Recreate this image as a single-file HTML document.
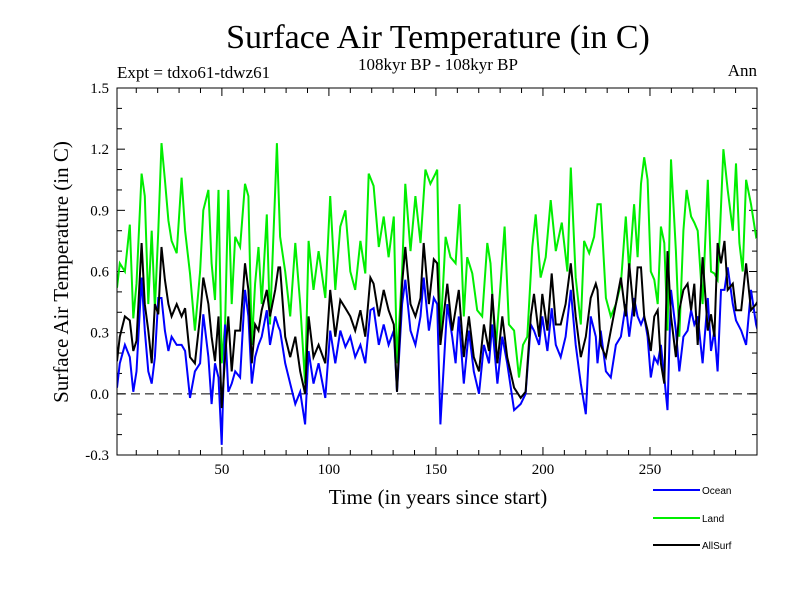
<!DOCTYPE html>
<html><head><meta charset="utf-8"><style>
body{margin:0;background:#fff}
svg text{font-family:"Liberation Serif",serif}
</style></head><body>
<svg id="chart" width="800" height="600" xmlns="http://www.w3.org/2000/svg">
<rect width="800" height="600" fill="#fff"/>
<text x="438" y="48" font-size="34" text-anchor="middle">Surface Air Temperature (in C)</text>
<text x="117" y="78" font-size="17">Expt = tdxo61-tdwz61</text>
<text x="438" y="70" font-size="17" text-anchor="middle">108kyr BP - 108kyr BP</text>
<text x="757" y="76" font-size="17" text-anchor="end">Ann</text>
<text x="438" y="504" font-size="21" text-anchor="middle">Time (in years since start)</text>
<text transform="translate(68,272) rotate(-90)" font-size="21" text-anchor="middle">Surface Air Temperature (in C)</text>
<defs><clipPath id="pc"><rect x="117" y="88" width="640" height="367"/></clipPath></defs>
<g id="axes"></g>
<g id="series" clip-path="url(#pc)"></g>
<rect x="117" y="88" width="640" height="367" fill="none" stroke="#000" stroke-width="1"/>
<g id="legend"></g>
</svg>
<script>
const yTicks=[-0.3,0,0.3,0.6,0.9,1.2,1.5];
const yTickLabels=["-0.3","0.0","0.3","0.6","0.9","1.2","1.5"];
const xTicks=[50,100,150,200,250];
const xTickLabels=["50","100","150","200","250"];
const seriesNames=["Ocean","Land","AllSurf"];
const landYears=[1,2.3,4.7,7,8.6,10.1,12.5,14,15.6,17.2,18.7,20.3,21.8,23.4,25,26.5,28.9,31.2,32.8,35.1,37.4,39.8,41.3,43.7,45.2,46.8,48.4,49.9,51.5,53,54.6,56.2,58.5,60.8,62.4,64,65.5,67.1,68.6,71,72.5,74.9,75.7,77.2,79.6,81.9,84.3,86.6,88.9,90.5,92.8,95.2,98.3,100.6,103,105.3,107.7,110,112.3,114.7,117,118.6,120.9,123.3,125.6,127.9,130.3,131.8,134.2,135.7,138.1,140.4,142.8,145.1,147.4,149.8,150.6,152.1,154.5,156.8,159.2,161,163,164.6,167,169.3,171.6,174,175.5,177.9,180.2,182.1,184.1,186.5,188.8,190.7,192.7,195,196.6,198.9,201.3,203.6,206,208.8,211.4,213,215.3,217.7,219.2,221.6,223.9,225.5,227,229.4,231.7,234.1,236.4,238.7,240.3,242.6,244.2,245.8,247.3,248.9,250.4,252,253.6,255.1,256.7,258.2,259.8,262.1,263.7,265.6,267.1,269.2,270.7,272.3,274.6,277,278.5,280.1,281.6,282.7,284.3,286.3,288.7,290.2,291.8,293.3,294.9,297.2,299.6,301.1];
const landValues=[0.52,0.64,0.6,0.83,0.37,0.54,1.08,0.97,0.44,0.8,0.42,0.8,1.23,1.05,0.85,0.75,0.69,1.06,0.8,0.59,0.31,0.6,0.9,1.0,0.64,0.46,1.0,0.15,0.34,1.0,0.44,0.77,0.72,1.03,0.97,0.24,0.54,0.72,0.44,0.88,0.34,1.0,1.23,0.77,0.6,0.38,0.74,0.44,0.05,0.75,0.51,0.7,0.47,0.97,0.51,0.82,0.9,0.6,0.51,0.75,0.59,1.08,1.02,0.72,0.87,0.67,0.87,0.15,0.6,1.03,0.7,0.97,0.74,1.1,1.03,1.08,1.1,0.28,0.77,0.67,0.64,0.93,0.38,0.67,0.59,0.41,0.38,0.74,0.64,0.21,0.54,0.82,0.34,0.31,0.08,0.24,0.28,0.72,0.88,0.57,0.67,0.95,0.7,0.84,0.6,1.11,0.57,0.34,0.75,0.69,0.77,0.93,0.93,0.47,0.38,0.44,0.54,0.87,0.6,0.93,0.67,1.03,1.16,1.05,0.6,0.56,0.44,0.82,0.74,0.31,1.15,0.7,0.28,0.8,1.0,0.87,0.84,0.8,0.44,1.05,0.6,0.59,0.56,0.8,1.2,1.0,0.8,1.13,0.74,0.6,1.05,0.93,0.77,0.79,0.74];
const allYears=[1,2.3,4.7,7,8.6,10.1,12.5,14,15.6,17.2,18.7,20.3,21.8,23.4,25,26.5,28.9,31.2,32.8,35.1,37.4,39.8,41.3,43.7,45.2,46.8,48.4,49.9,51.5,53,54.6,56.2,58.5,60.8,62.4,64,65.5,67.1,68.6,71,72.5,74.9,76.4,77.2,79.6,81.9,84.3,86.6,88.9,90.5,92.8,95.2,98.3,100.6,103,105.3,107.7,110,112.3,114.7,117,119.4,120.9,123.3,125.6,127.9,130.3,131.8,134.2,135.7,138.1,140.4,142.8,144.3,146.7,149,150.6,152.1,155.3,157.6,160.7,163,165.4,167.7,170.1,172.4,174.8,176.3,178.7,181,183.3,186.5,189.6,191.9,194.3,195.8,198.2,199.7,202.1,204.1,206,208.3,210.6,213,215.3,217.7,220,222.3,224.7,225.5,227,229.4,231.7,234.1,236.4,238.7,240.3,242.6,244.2,245.8,247.3,248.9,250.4,252,253.6,255.1,256.7,258.2,259.8,262.1,263.7,265.6,267.6,269.2,270.7,272.3,274.6,277,278.5,280.1,281.6,283.2,284.8,286.3,288.7,290.2,292.6,294.9,297.2,299.6,301.1];
const allValues=[0.16,0.28,0.38,0.36,0.21,0.26,0.74,0.44,0.31,0.15,0.44,0.39,0.72,0.56,0.44,0.38,0.44,0.38,0.42,0.18,0.15,0.38,0.57,0.44,0.28,0.16,0.38,-0.07,0.18,0.38,0.11,0.31,0.31,0.64,0.51,0.15,0.34,0.31,0.41,0.51,0.38,0.51,0.62,0.62,0.28,0.18,0.28,0.11,0.0,0.38,0.18,0.24,0.15,0.51,0.28,0.46,0.42,0.38,0.31,0.41,0.28,0.57,0.54,0.38,0.51,0.41,0.34,0.01,0.54,0.72,0.44,0.38,0.47,0.74,0.44,0.66,0.64,0.24,0.54,0.31,0.51,0.18,0.38,0.18,0.11,0.34,0.21,0.49,0.15,0.38,0.18,0.03,-0.02,0.01,0.38,0.49,0.28,0.49,0.31,0.59,0.34,0.34,0.44,0.64,0.38,0.18,0.28,0.47,0.54,0.51,0.24,0.18,0.31,0.44,0.57,0.38,0.64,0.38,0.62,0.62,0.38,0.31,0.21,0.38,0.41,0.15,0.05,0.7,0.38,0.18,0.41,0.51,0.54,0.41,0.54,0.24,0.67,0.31,0.39,0.28,0.74,0.64,0.75,0.51,0.54,0.41,0.41,0.64,0.41,0.44,0.47];
const oceanYears=[1,2.3,4.7,7,8.6,10.1,12.5,14,15.6,17.2,18.7,20.3,21.8,23.4,25,26.5,28.9,31.2,32.8,35.1,37.4,39.8,41.3,43.7,45.2,46.8,48.4,49.9,51.5,53,54.6,56.2,58.5,60.8,62.4,64,65.5,67.1,68.6,71,72.5,74.9,76.4,77.2,79.6,81.9,84.3,86.6,88.9,90.5,92.8,95.2,98.3,100.6,103,105.3,107.7,110,112.3,114.7,117,119.4,120.9,123.3,125.6,127.9,130.3,131.8,134.2,135.7,138.1,140.4,142.8,144.3,146.7,149,150.6,152.1,155.3,157.6,159.2,160.7,163,165.4,167.7,170.1,172.4,174.8,176.3,178.7,181,183.3,186.5,189.6,191.9,194.3,195.8,198.2,199.7,202.1,204.1,206,208.3,210.6,213,215.3,217.7,220,222.3,224.7,225.5,227,229.4,231.7,234.1,236.4,238.7,240.3,242.6,244.2,245.8,247.3,248.9,250.4,252,253.6,255.1,256.7,258.2,259.8,262.1,263.7,265.6,267.6,269.2,270.7,272.3,274.6,277,278.5,280.1,281.6,283.2,284.8,286.3,288.7,290.2,292.6,294.9,297.2,299.6,301.1];
const oceanValues=[0.03,0.15,0.24,0.18,0.01,0.11,0.57,0.31,0.11,0.05,0.18,0.47,0.47,0.31,0.21,0.28,0.24,0.24,0.21,-0.02,0.11,0.15,0.39,0.18,-0.05,0.15,0.08,-0.25,0.34,0.01,0.05,0.11,0.08,0.51,0.38,0.05,0.18,0.24,0.28,0.41,0.24,0.38,0.33,0.31,0.15,0.05,-0.05,0.01,-0.15,0.21,0.05,0.15,-0.02,0.31,0.15,0.31,0.23,0.28,0.18,0.24,0.15,0.41,0.42,0.24,0.34,0.24,0.31,0.01,0.44,0.56,0.31,0.24,0.38,0.57,0.31,0.47,0.44,-0.15,0.44,0.28,0.15,0.38,0.05,0.31,0.11,0.0,0.24,0.15,0.34,0.05,0.28,0.15,-0.08,-0.05,0.0,0.34,0.31,0.24,0.38,0.21,0.42,0.24,0.18,0.28,0.51,0.24,0.05,-0.1,0.38,0.28,0.15,0.31,0.11,0.08,0.24,0.28,0.44,0.28,0.47,0.38,0.34,0.38,0.28,0.08,0.18,0.15,0.24,0.08,-0.08,0.51,0.31,0.11,0.28,0.31,0.41,0.34,0.38,0.15,0.47,0.21,0.31,0.11,0.51,0.51,0.62,0.44,0.36,0.31,0.24,0.51,0.34,0.28,0.34];

const X0=117,X1=757,Y0=455,Y1=88,xmin=1,xmax=300,ymin=-0.3,ymax=1.5;
const xs=v=>X0+(v-xmin)/(xmax-xmin)*(X1-X0);
const ys=v=>Y0-(v-ymin)/(ymax-ymin)*(Y0-Y1);
const NS="http://www.w3.org/2000/svg";
function mk(tag,attrs,parent){const e=document.createElementNS(NS,tag);for(const k in attrs)e.setAttribute(k,attrs[k]);parent.appendChild(e);return e;}
const axes=document.getElementById('axes');
for(let v=-0.3;v<=1.5001;v+=0.1){
  const y=ys(v);const maj=Math.abs(Math.round(v*10)%3)===0;const L=maj?8:5;
  const t1=mk('line',{x1:X0,x2:X0+L,y1:y,y2:y,stroke:'#000'},axes);
  
  
  const t2=mk('line',{x1:X1-L,x2:X1,y1:y,y2:y,stroke:'#000'},axes);
  
  
}
yTicks.forEach((v,i)=>{
  const t=mk('text',{x:X0-8,y:ys(v)+5,'font-size':15,'text-anchor':'end'},axes);t.textContent=yTickLabels[i];
  
  
});
for(let v=10;v<300;v+=10){
  const x=xs(v);const L=v%50===0?8:5;
  const t1=mk('line',{x1:x,x2:x,y1:Y0,y2:Y0-L,stroke:'#000'},axes);
  
  
  const t2=mk('line',{x1:x,x2:x,y1:Y1,y2:Y1+L,stroke:'#000'},axes);
  
  
}
xTicks.forEach((v,i)=>{
  const t=mk('text',{x:xs(v),y:Y0+19,'font-size':15,'text-anchor':'middle'},axes);t.textContent=xTickLabels[i];
  
  
});
const zl=mk('line',{x1:X0,x2:X1,y1:ys(0),y2:ys(0),stroke:'#000','stroke-dasharray':'9,5'},axes);


const sg=document.getElementById('series');
function drawSeries(xsArr,vals,color,name){
  const d=xsArr.map((x,i)=>(i?'L':'M')+xs(x).toFixed(1)+','+ys(vals[i]).toFixed(1)).join('');
  const p=mk('path',{d:d,fill:'none',stroke:color,'stroke-width':2,'stroke-linejoin':'miter'},sg);
  
  
}
drawSeries(landYears,landValues,'#00ee00','land-line');
drawSeries(oceanYears,oceanValues,'#0000ff','ocean-line');
drawSeries(allYears,allValues,'#000000','allsurf-line');
const lg=document.getElementById('legend');
const lcols=['#0000ff','#00ee00','#000000'];
const lys=[490,518,545];
seriesNames.forEach((n,i)=>{
  const l=mk('line',{x1:653,x2:700,y1:lys[i],y2:lys[i],stroke:lcols[i],'stroke-width':2},lg);
  
  
  const t=mk('text',{x:702,y:lys[i]+4,'font-size':10,style:'font-family:"Liberation Sans",sans-serif'},lg);t.textContent=n;
  
  
});
</script>
</body></html>
